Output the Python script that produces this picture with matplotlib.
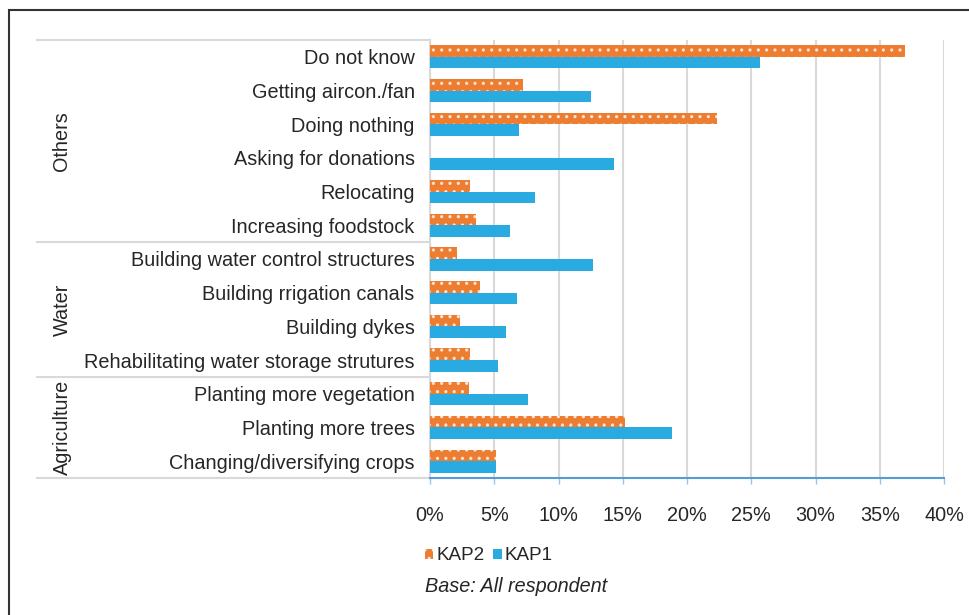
import matplotlib
matplotlib.use("Agg")
import matplotlib.pyplot as plt
from matplotlib.patches import Patch, Rectangle
from matplotlib.ticker import FuncFormatter
import matplotlib.transforms as mtransforms

# data (percent of respondents)
categories = ["Do not know", "Getting aircon./fan", "Doing nothing", "Asking for donations",
              "Relocating", "Increasing foodstock", "Building water control structures",
              "Building rrigation canals", "Building dykes", "Rehabilitating water storage strutures",
              "Planting more vegetation", "Planting more trees", "Changing/diversifying crops"]
kap2 = [37.0, 7.2, 22.3, 0.0, 3.1, 3.6, 2.1, 3.9, 2.3, 3.1, 3.0, 15.2, 5.1]
kap1 = [25.7, 12.5, 6.9, 14.3, 8.2, 6.2, 12.7, 6.8, 5.9, 5.3, 7.6, 18.8, 5.1]
groups = ["Others", "Water", "Agriculture"]
group_sizes = [6, 4, 3]
xticks = [0, 5, 10, 15, 20, 25, 30, 35, 40]

ORANGE = "#ED7D31"
BLUE = "#29ABE2"
TXT = "#262626"
GRID = "#d9d9d9"
DOTS = "#fbe3d2"
FS = 14.3

plt.rcParams['font.family'] = ['Liberation Sans', 'DejaVu Sans']
plt.rcParams['hatch.linewidth'] = 1.1

fig = plt.figure(figsize=(9.7, 6.15), dpi=100)
ax = fig.add_axes([430 / 970, 1 - 478 / 615, 514 / 970, 438 / 615])

rows = list(range(len(categories)))
off = 0.172
h = 0.345
ax.barh([r - off for r in rows], kap2, height=h, color=ORANGE, edgecolor=DOTS,
        linewidth=0, hatch="..", label="KAP2", zorder=3)
ax.barh([r + off for r in rows], kap1, height=h, color=BLUE, linewidth=0,
        label="KAP1", zorder=3)

ax.set_ylim(len(categories) - 0.5, -0.5)
ax.set_xlim(0, 40)
ax.set_xticks(xticks)
ax.xaxis.set_major_formatter(FuncFormatter(lambda v, p: "%d%%" % v))
ax.set_yticks(rows)
ax.set_yticklabels(categories)
ax.tick_params(axis="y", length=0, pad=11, labelsize=FS, labelcolor=TXT)
ax.tick_params(axis="x", length=4, width=1, color="#9dc3e6", pad=16, labelsize=FS,
               labelcolor=TXT)
ax.grid(axis="x", color=GRID, lw=1.5)
ax.set_axisbelow(True)
for s in ["top", "right"]:
    ax.spines[s].set_visible(False)
ax.spines["left"].set_color(GRID)
ax.spines["left"].set_linewidth(1.5)
ax.spines["bottom"].set_color("#5b9bd5")
ax.spines["bottom"].set_linewidth(1.5)

# group separators and group labels on the left
trans = mtransforms.blended_transform_factory(fig.transFigure, ax.transData)
start = -0.5
for g, n in zip(groups, group_sizes):
    ax.plot([37 / 970, 430 / 970], [start, start], color=GRID, lw=1.5,
            transform=trans, clip_on=False)
    ax.text(62 / 970, start + n / 2, g, rotation=90, ha="center", va="center",
            fontsize=FS, color=TXT, transform=trans)
    start += n
ax.plot([37 / 970, 430 / 970], [start, start], color=GRID, lw=1.5,
        transform=trans, clip_on=False)

# legend
handles = [Patch(facecolor=ORANGE, edgecolor=DOTS, linewidth=0, hatch=".."),
           Patch(facecolor=BLUE, linewidth=0)]
fig.legend(handles, ["KAP2", "KAP1"], loc="center left",
           bbox_to_anchor=(425 / 970, 1 - 556 / 615), ncol=2, frameon=False,
           borderpad=0, borderaxespad=0,
           fontsize=13.6, handlelength=0.45, handleheight=0.45, handletextpad=0.15,
           columnspacing=0.45, labelcolor=TXT)
fig.text(425 / 970, 1 - 587 / 615, "Base: All respondent", style="italic",
         fontsize=FS, color=TXT, ha="left", va="center")

# outer frame (runs off the right and bottom of the picture)
fig.patches.append(Rectangle((9 / 970, -0.1), 1.2, 1 - 10 / 615 + 0.1,
                             transform=fig.transFigure, fill=False,
                             edgecolor="#333333", lw=1.5))

fig.savefig("out.png", dpi=100)
